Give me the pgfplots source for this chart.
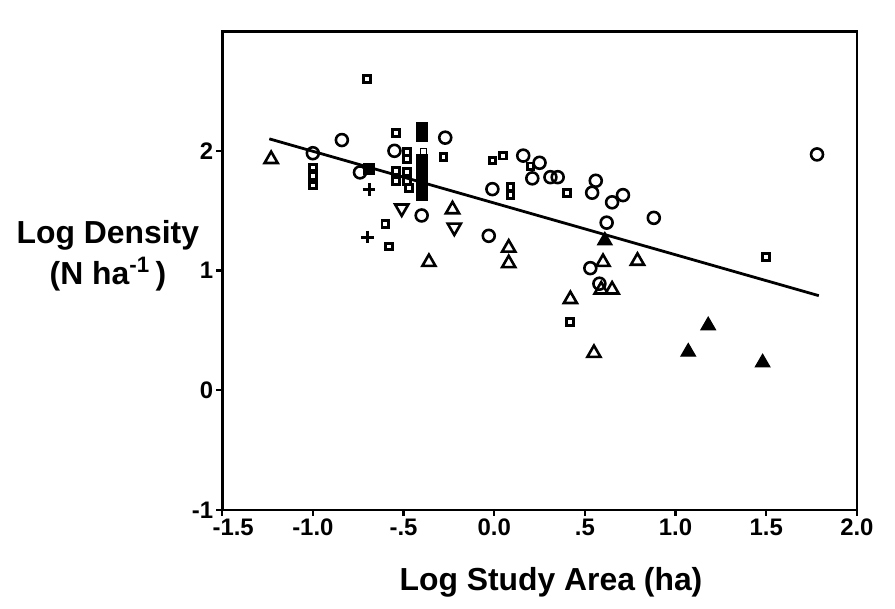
\documentclass[border=0pt]{standalone}
\usepackage{pgfplots}
\pgfplotsset{compat=1.18}
\usepackage{fontspec}
\setmainfont{Liberation Sans}

\begin{document}
\begin{tikzpicture}
  \begin{axis}[
      scale only axis,
      width=317.5bp, height=239.5bp,
      xmin=-1.5, xmax=2.0, ymin=-1, ymax=3,
      xtick={-1.5,-1,-0.5,0,0.5,1,1.5,2},
      xticklabels={\hspace*{11bp}-1.5,-1.0,-.5,0.0,.5,1.0,1.5,2.0},
      ytick={-1,0,1,2},
      yticklabels={-1,0,1,2},
      xtick pos=bottom, ytick pos=left,
      tick align=outside,
      major tick length=3bp,
      tick style={line width=1.2bp, black},
      axis line style={line width=1.4bp},
      ticklabel style={font=\fontsize{12}{14}\selectfont\bfseries},
      xticklabel style={yshift=2bp},
      yticklabel style={xshift=2bp},
      xlabel={Log Study Area (ha)},
      xlabel style={at={(axis description cs:0.518,-0.152)}, anchor=center,
        font=\fontsize{16}{19}\selectfont\bfseries},
      ylabel={Log Density\\(N ha\textsuperscript{-1}\,)},
      ylabel style={rotate=-90, align=center, anchor=center,
        at={(axis description cs:-0.18,0.53)},
        font=\fontsize{16}{20.5}\selectfont\bfseries},
      clip=false,
      sq/.style={only marks, mark=square, mark size=1.7pt,
        mark options={line width=1.5pt, draw=black}},
      fsq/.style={only marks, mark=square*, mark size=2.6pt,
        mark options={line width=0.8pt, draw=black, fill=black}},
      circ/.style={only marks, mark=o, mark size=3pt,
        mark options={line width=1.3pt, draw=black}},
      tri/.style={only marks, mark=triangle, mark size=3.8pt,
        mark options={line width=1.3pt, draw=black}},
      ftri/.style={only marks, mark=triangle*, mark size=4.2pt,
        mark options={line width=0.6pt, draw=black, fill=black}},
      dtri/.style={only marks, mark=triangle, mark size=3.8pt,
        mark options={line width=1.3pt, draw=black, rotate=180}},
      pls/.style={only marks, mark=+, mark size=3.2pt,
        mark options={line width=1.5pt, draw=black}},
    ]
    % page size = reference proportions
    \path (axis description cs:-0.350,-0.205) rectangle (axis description cs:1.060,1.065);

    % regression line
    \addplot[black, line width=1.4pt] coordinates {(-1.24,2.10) (1.79,0.79)};

    % filled squares
    \addplot[fsq] coordinates {
      (-0.40,2.19) (-0.40,2.12) (-0.40,1.92) (-0.40,1.86) (-0.40,1.80)
      (-0.40,1.74) (-0.40,1.68) (-0.40,1.63) (-0.69,1.85)
    };

    % open squares
    \addplot[sq] coordinates {
      (-1.00,1.86) (-1.00,1.79) (-1.00,1.71) (-0.70,2.60) (-0.54,2.15)
      (-0.48,1.99) (-0.48,1.93) (-0.54,1.83) (-0.48,1.82) (-0.54,1.75)
      (-0.48,1.75) (-0.47,1.69) (-0.28,1.95) (-0.60,1.39) (-0.58,1.20)
      (-0.01,1.92) (0.05,1.96) (0.20,1.87) (0.40,1.65) (0.09,1.70)
      (0.09,1.63) (0.42,0.57) (1.50,1.11)
    };
    \addplot[sq, mark options={fill=white}] coordinates {(-0.39,1.99)};

    % open circles
    \addplot[circ] coordinates {
      (-1.00,1.98) (-0.84,2.09) (-0.74,1.82) (-0.55,2.00) (-0.27,2.11)
      (-0.40,1.46) (-0.03,1.29) (-0.01,1.68) (0.16,1.96) (0.25,1.90)
      (0.21,1.77) (0.31,1.78) (0.35,1.78) (0.56,1.75) (0.54,1.65)
      (0.71,1.63) (0.65,1.57) (0.88,1.44) (0.62,1.40) (0.53,1.02)
      (0.58,0.89) (1.78,1.97)
    };

    % open triangles
    \addplot[tri] coordinates {
      (-1.23,1.93) (-0.23,1.51) (-0.36,1.07) (0.08,1.19) (0.08,1.06)
      (0.60,1.07) (0.79,1.08) (0.59,0.84) (0.65,0.84) (0.42,0.76)
      (0.55,0.31)
    };

    % filled triangles
    \addplot[ftri] coordinates {(0.61,1.25) (1.07,0.32) (1.18,0.54) (1.48,0.23)};

    % inverted triangles
    \addplot[dtri] coordinates {(-0.51,1.52) (-0.22,1.36)};

    % plus signs
    \addplot[pls] coordinates {(-0.69,1.68) (-0.70,1.28)};
  \end{axis}
\end{tikzpicture}
\end{document}
